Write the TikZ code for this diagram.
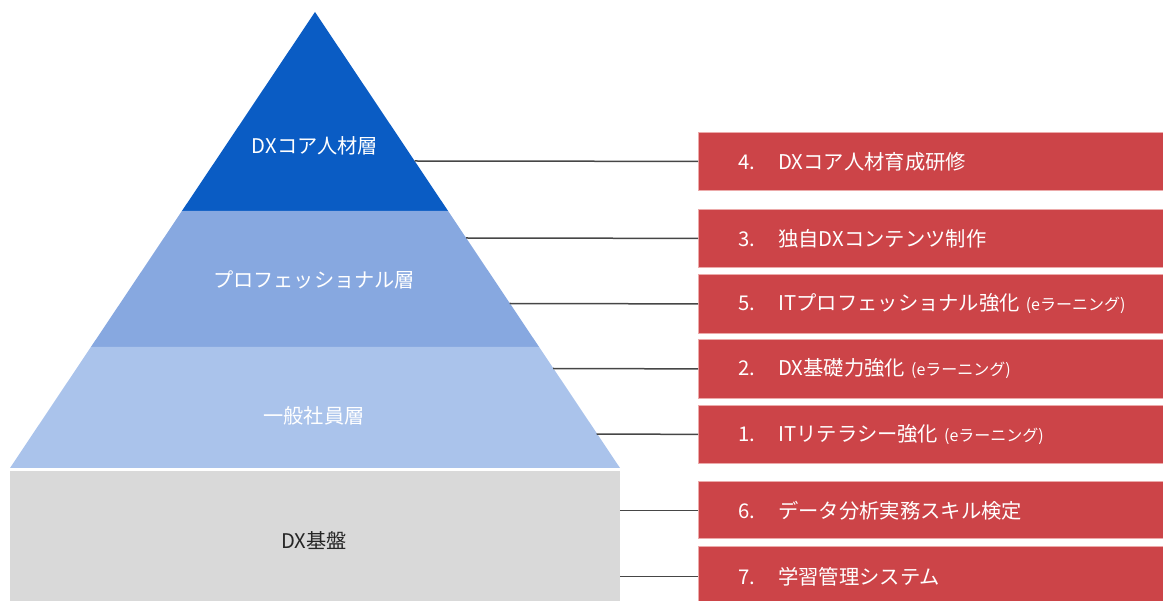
\documentclass[tikz,border=0pt]{standalone}
\usepackage{fontspec}
\setmainfont{Noto Sans CJK JP}
\usetikzlibrary{calc}
\definecolor{corecol}{RGB}{10,92,196}
\definecolor{profcol}{RGB}{135,168,224}
\definecolor{gencol}{RGB}{170,195,235}
\definecolor{basecol}{RGB}{217,217,217}
\definecolor{boxred}{RGB}{204,68,72}
\definecolor{boxedge}{RGB}{236,170,170}
\definecolor{conncol}{RGB}{70,70,70}
\begin{document}
\begin{tikzpicture}[x=1pt,y=-1pt,
  layerlabel/.style={text=white,font=\fontsize{20.2}{22}\selectfont,inner sep=0pt},
  baselabel/.style={text=black!85,font=\fontsize{20.2}{22}\selectfont,inner sep=0pt},
  prog/.style={fill=boxred,draw=boxedge,line width=0.8pt,minimum width=470pt,
    text width=390pt,inner xsep=40pt,inner ysep=0pt,align=left,anchor=north west,
    text=white,font=\fontsize{20.3}{22}\selectfont},
  conn/.style={draw=conncol,line width=1.5pt},
]
\newcommand{\elearn}{\hspace{6pt}{\fontsize{16}{18}\selectfont(eラーニング)}}
\useasboundingbox (0,0) rectangle (1163,601);
\begin{scope}
\clip (0,0) rectangle (1163,601);
% pyramid
\coordinate (apex) at (315,12);
\fill[corecol] (apex) -- (181.9,211) -- (448.1,211) -- cycle;
\fill[profcol] (181.9,211) -- (90.9,347) -- (539.1,347) -- (448.1,211) -- cycle;
\fill[gencol] (90.9,347) -- (10,468) -- (620,468) -- (539.1,347) -- cycle;
\node[fill=basecol,inner sep=0pt,minimum width=610pt,minimum height=140pt,anchor=north west] (base) at (10,471) {};
% layer labels
\node[layerlabel] (lcore) at (315,146) {DXコア人材層};
\node[layerlabel] (lprof) at (314,280) {プロフェッショナル層};
\node[layerlabel] (lgen) at (314,416) {一般社員層};
\node[baselabel] (lbase) at (314,541) {DX基盤};
% edge points
\coordinate (e4) at (414.7,161);
\coordinate (e3) at (466.2,238);
\coordinate (e5) at (509.6,303.5);
\coordinate (e2) at (553.1,368.5);
\coordinate (e1) at (596.6,434);
% program boxes
\node[prog,minimum height=58pt] (b4) at (698,132) {\makebox[40pt][l]{4.}DXコア人材育成研修};
\node[prog,minimum height=58pt] (b3) at (698,209) {\makebox[40pt][l]{3.}独自DXコンテンツ制作};
\node[prog,minimum height=59pt] (b5) at (698,274) {\makebox[40pt][l]{5.}ITプロフェッショナル強化\elearn};
\node[prog,minimum height=59pt] (b2) at (698,339) {\makebox[40pt][l]{2.}DX基礎力強化\elearn};
\node[prog,minimum height=58pt] (b1) at (698,405) {\makebox[40pt][l]{1.}ITリテラシー強化\elearn};
\node[prog,minimum height=57pt] (b6) at (698,481.5) {\makebox[40pt][l]{6.}データ分析実務スキル検定};
\node[prog,minimum height=60pt] (b7) at (698,546) {\makebox[40pt][l]{7.}学習管理システム};
% connectors
\draw[conn] (e4) -- (b4.west);
\draw[conn] (e3) -- (b3.west);
\draw[conn] (e5) -- (b5.west);
\draw[conn] (e2) -- (b2.west);
\draw[conn] (e1) -- (b1.west);
\draw[conn] (b6.west -| base.east) -- (b6.west);
\draw[conn] (b7.west -| base.east) -- (b7.west);
\end{scope}
\end{tikzpicture}
\end{document}
